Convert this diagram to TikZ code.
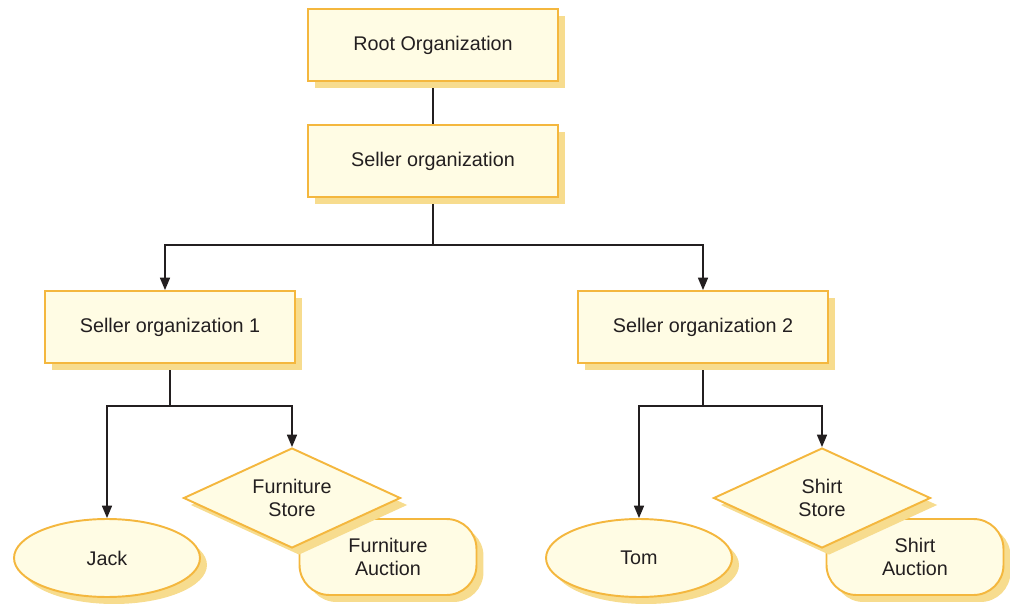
\documentclass[tikz,border=0pt]{standalone}
\usepackage{fontspec}
\setmainfont{Liberation Sans}
\usetikzlibrary{positioning, arrows.meta, shapes.geometric, shadows, backgrounds}

\definecolor{boxfill}{HTML}{FFFCE4}
\definecolor{boxline}{HTML}{F4B73E}
\definecolor{boxshade}{HTML}{F7DC8E}
\definecolor{inkc}{HTML}{231F20}

\newcommand{\midtext}[1]{\makebox[0pt]{#1}}

\begin{document}
\begin{tikzpicture}[
    x=0.02cm, y=-0.02cm,
    font=\fontsize{11.25}{13}\selectfont,
    shade3d/.style={
        general shadow={fill=boxshade, draw=none, shadow xshift=0.14cm, shadow yshift=-0.14cm}
    },
    orgbox/.style={
        draw=boxline,
        fill=boxfill,
        line width=1.1pt,
        shade3d,
        text=inkc,
        align=center,
        minimum width=5cm,
        minimum height=1.44cm
    },
    person/.style={
        ellipse,
        draw=boxline,
        fill=boxfill,
        line width=1.1pt,
        shade3d,
        text=inkc,
        minimum width=3.72cm,
        minimum height=1.56cm
    },
    store/.style={
        diamond,
        draw=boxline,
        fill=boxfill,
        line width=1.1pt,
        shade3d,
        text=inkc,
        align=center,
        inner sep=0pt,
        minimum width=4.34cm,
        minimum height=2cm
    },
    auction/.style={
        draw=boxline,
        fill=boxfill,
        line width=1.1pt,
        rounded corners=0.6cm,
        shade3d,
        text=inkc,
        align=center,
        minimum width=3.54cm,
        minimum height=1.52cm
    },
    arrow/.style={
        -{Triangle[width=5.7pt, length=7pt]},
        draw=inkc,
        line width=0.75pt
    },
    link/.style={
        draw=inkc,
        line width=0.75pt
    }
]
\useasboundingbox (0,0) rectangle (1010,607);

\node[orgbox] (root) at (433,45) {Root Organization};
\node[orgbox] (seller) at (433,161) {Seller organization};

\node[orgbox] (seller1) at (170,327) {Seller organization 1};
\node[orgbox] (seller2) at (703,327) {Seller organization 2};

% left branch
\node[person] (jack) at (107,558) {Jack};
\node[auction] (furnauction) at (388,557) {Furniture\\Auction};
\node[store] (furnstore) at (292,498) {\midtext{Furniture}\\\midtext{Store}};

% right branch
\node[person] (tom) at (639,558) {Tom};
\node[auction] (shirtauction) at (915,557) {Shirt\\Auction};
\node[store] (shirtstore) at (822,498) {\midtext{Shirt}\\\midtext{Store}};

\coordinate (split0) at (433,245);
\coordinate (split1) at (170,406);
\coordinate (split2) at (703,406);

\begin{scope}[on background layer]
\draw[link] (root) -- (seller);
\draw[link] (seller) -- (split0);
\draw[arrow] (split0) -| ([xshift=-0.1cm]seller1.north);
\draw[arrow] (split0) -| (seller2.north);

\draw[link] (seller1) -- (split1);
\draw[arrow] (split1) -| (jack.north);
\draw[arrow] (split1) -| (furnstore.north);

\draw[link] (seller2) -- (split2);
\draw[arrow] (split2) -| (tom.north);
\draw[arrow] (split2) -| (shirtstore.north);
\end{scope}

\end{tikzpicture}
\end{document}
